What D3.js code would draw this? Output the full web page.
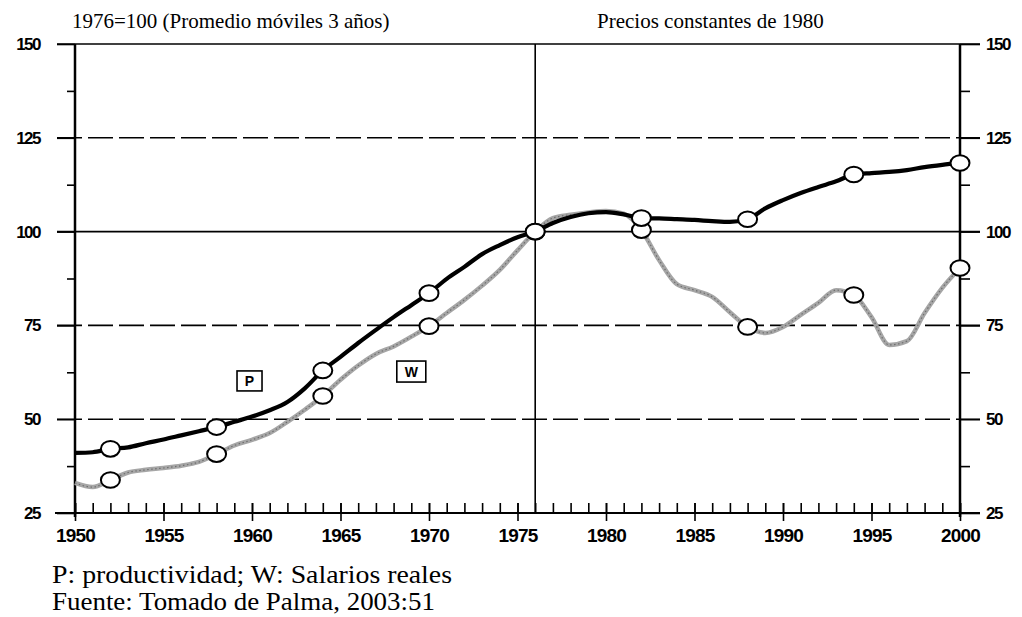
<!DOCTYPE html>
<html>
<head>
<meta charset="utf-8">
<script src="https://cdn.jsdelivr.net/npm/d3@7"></script>
<style>
html,body{margin:0;padding:0;background:#fff;}
svg{display:block;}
.serif{font-family:"Liberation Serif","Times New Roman",serif;}
</style>
</head>
<body>
<svg id="chart" width="1022" height="617"></svg>
<script>
// ---- data ----
const years = d3.range(1950, 2001);
const productividad = [
  41.0, 41.2, 42.1, 42.5, 43.6, 44.6, 45.7, 46.8, 47.9, 49.3,
  50.7, 52.4, 54.6, 58.3, 63.0, 66.6, 70.3, 73.8, 77.2, 80.4,
  83.6, 87.4, 90.6, 94.0, 96.4, 98.5, 100.0, 102.3, 103.9, 104.9,
  105.2, 104.6, 103.6, 103.5, 103.3, 103.1, 102.8, 102.6, 103.3, 106.2,
  108.4, 110.3, 111.9, 113.4, 115.2, 115.6, 115.9, 116.4, 117.2, 117.8,
  118.3
];
const salarios = [
  33.0, 31.9, 33.8, 35.8, 36.5, 37.0, 37.6, 38.6, 40.7, 43.0,
  44.5, 46.3, 49.3, 52.6, 56.2, 60.5, 64.3, 67.4, 69.4, 72.0,
  74.8, 78.3, 81.8, 85.6, 89.8, 95.0, 100.0, 103.6, 104.5, 105.1,
  105.5, 104.8, 100.4, 92.4, 86.0, 84.4, 82.6, 78.5, 74.6, 73.0,
  74.6, 77.8, 81.0, 84.4, 83.1, 77.2, 69.8, 70.8, 78.3, 85.0,
  90.3
];
const markerYears = [1952, 1958, 1964, 1970, 1976, 1982, 1988, 1994, 2000];
const yMajor = [25, 50, 75, 100, 125, 150];
const yMinor = [37.5, 62.5, 87.5, 112.5, 137.5];
const xMajor = d3.range(1950, 2001, 5);
const gridSolid = [100, 150];
const gridDashed = [50, 75, 125];
const titleLeft = "1976=100 (Promedio móviles 3 años)";
const titleRight = "Precios constantes de 1980";
const notes = ["P: productividad; W: Salarios reales", "Fuente: Tomado de Palma, 2003:51"];
const baseYear = 1976;

// ---- drawing ----
const svg = d3.select("#chart");
const x = d3.scaleLinear().domain([1950, 2000]).range([75, 960]);
const y = d3.scaleLinear().domain([25, 150]).range([513, 44]);
const pLeft = 75, pRight = 960, pBottom = 513, pTop = 44;

// gridlines
svg.append("g").selectAll("line").data(gridSolid).join("line")
  .attr("x1", 57).attr("x2", 980)
  .attr("y1", d => y(d)).attr("y2", d => y(d))
  .attr("stroke", "#000").attr("stroke-width", 1.6);
svg.append("g").selectAll("line").data(gridDashed).join("line")
  .attr("x1", 57).attr("x2", 980)
  .attr("y1", d => y(d)).attr("y2", d => y(d))
  .attr("stroke", "#000").attr("stroke-width", 1.6)
  .attr("stroke-dasharray", "25,6");

// base line (25) as x axis line
svg.append("line").attr("x1", 55).attr("x2", 980)
  .attr("y1", y(25)).attr("y2", y(25))
  .attr("stroke", "#000").attr("stroke-width", 2);

// vertical 1976 line
svg.append("line").attr("x1", x(baseYear)).attr("x2", x(baseYear))
  .attr("y1", pTop).attr("y2", pBottom)
  .attr("stroke", "#000").attr("stroke-width", 1.6);

const tickFont = g => g.selectAll("text")
  .attr("font-family", "Liberation Sans, Arial, sans-serif")
  .attr("font-weight", "bold")
  .attr("fill", "#000");

// left axis
const gl = svg.append("g").attr("transform", `translate(${pLeft},0)`)
  .call(d3.axisLeft(y).tickValues(yMajor).tickSize(18).tickPadding(17).tickFormat(d3.format("d")));
gl.call(tickFont).selectAll("text").attr("font-size", 17).attr("letter-spacing", "-1.5px");
svg.append("g").attr("transform", `translate(${pLeft},0)`)
  .call(d3.axisLeft(y).tickValues(yMinor).tickSize(8).tickFormat(""));

// right axis
const gr = svg.append("g").attr("transform", `translate(${pRight},0)`)
  .call(d3.axisRight(y).tickValues(yMajor).tickSize(20).tickPadding(6).tickFormat(d3.format("d")));
gr.call(tickFont).selectAll("text").attr("font-size", 17).attr("letter-spacing", "-1.5px");
svg.append("g").attr("transform", `translate(${pRight},0)`)
  .call(d3.axisRight(y).tickValues(yMinor).tickSize(10).tickFormat(""));

// bottom axis: minor yearly ticks upward
svg.append("g").attr("transform", `translate(0,${pBottom})`)
  .call(d3.axisBottom(x).tickValues(years).tickSize(-10).tickFormat(""));
// major ticks crossing + labels
const gb = svg.append("g").attr("transform", `translate(0,${pBottom})`)
  .call(d3.axisBottom(x).tickValues(xMajor).tickSize(8).tickPadding(8).tickFormat(d3.format("d")));
gb.selectAll(".tick").append("line").attr("y1", 0).attr("y2", -10);
gb.call(tickFont).selectAll("text").attr("font-size", 19).attr("letter-spacing", "-0.8px");

svg.selectAll(".domain").remove();
svg.selectAll(".tick line").attr("stroke", "#000").attr("stroke-width", 1.6);

// axis lines
svg.append("line").attr("x1", pLeft).attr("x2", pLeft).attr("y1", pTop).attr("y2", pBottom + 4)
  .attr("stroke", "#000").attr("stroke-width", 2.5);
svg.append("line").attr("x1", pRight).attr("x2", pRight).attr("y1", pTop).attr("y2", pBottom + 4)
  .attr("stroke", "#000").attr("stroke-width", 2.5);

// lines
const line = d3.line().x((d, i) => x(years[i])).y(d => y(d)).curve(d3.curveMonotoneX);
svg.append("path").datum(salarios).attr("d", line)
  .attr("fill", "none").attr("stroke", "#a6a6a6").attr("stroke-width", 4.5)
  .attr("stroke-linejoin", "round");
svg.append("path").datum(salarios).attr("d", line)
  .attr("fill", "none").attr("stroke", "#6e6e6e").attr("stroke-width", 1.2)
  .attr("stroke-dasharray", "1.5,2.5");
svg.append("path").datum(productividad).attr("d", line)
  .attr("fill", "none").attr("stroke", "#000").attr("stroke-width", 4.2)
  .attr("stroke-linejoin", "round");

// markers
const markers = (vals) => markerYears.map(yr => ({ yr, v: vals[years.indexOf(yr)] }));
[salarios, productividad].forEach(vals => {
  svg.append("g").selectAll("ellipse").data(markers(vals)).join("ellipse")
    .attr("cx", d => x(d.yr)).attr("cy", d => y(d.v))
    .attr("rx", 9.5).attr("ry", 7.8)
    .attr("fill", "#fff").attr("stroke", "#000").attr("stroke-width", 2);
});

// series labels in boxes
const labels = [{ t: "P", yr: 1959.86, v: 60.2, w: 25, h: 20 }, { t: "W", yr: 1969.0, v: 62.7, w: 29, h: 21 }];
const lg = svg.append("g").selectAll("g").data(labels).join("g")
  .attr("transform", d => `translate(${x(d.yr)},${y(d.v)})`);
lg.append("rect").attr("x", d => -d.w / 2).attr("y", d => -d.h / 2)
  .attr("width", d => d.w).attr("height", d => d.h)
  .attr("fill", "#fff").attr("stroke", "#000").attr("stroke-width", 1.6);
lg.append("text").text(d => d.t).attr("text-anchor", "middle").attr("dy", "0.36em")
  .attr("font-family", "Liberation Sans, Arial, sans-serif").attr("font-size", 14).attr("font-weight", "bold");

// titles
svg.append("text").attr("class", "serif").text(titleLeft).attr("x", 72).attr("y", 28)
  .style("font-size", "21px");
svg.append("text").attr("class", "serif").text(titleRight).attr("x", 597).attr("y", 28)
  .style("font-size", "21px");

// notes
const noteLen = [400, 383];
svg.append("g").selectAll("text").data(notes).join("text")
  .attr("class", "serif")
  .text(d => d).attr("x", 52).attr("y", (d, i) => 583 + i * 27)
  .attr("textLength", (d, i) => noteLen[i]).attr("lengthAdjust", "spacingAndGlyphs")
  .style("font-size", "25px");
</script>
</body>
</html>
